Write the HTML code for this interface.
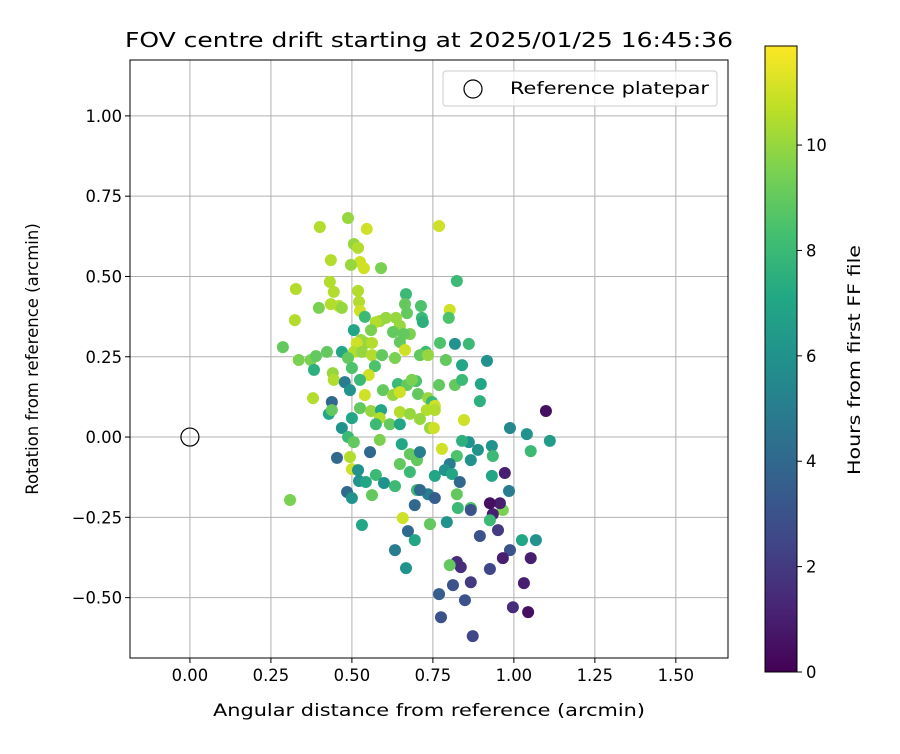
<!DOCTYPE html>
<html><head><meta charset="utf-8"><style>
body{margin:0;background:#fff;font-family:"DejaVu Sans","Liberation Sans",sans-serif;}
svg text{font-family:"DejaVu Sans","Liberation Sans",sans-serif;fill:#000;}
</style></head><body>
<svg id="chart" width="900" height="750" xmlns="http://www.w3.org/2000/svg">
<defs><linearGradient id="vir" x1="0" y1="1" x2="0" y2="0">
<stop offset="0" stop-color="#440154"/><stop offset="0.1" stop-color="#482475"/><stop offset="0.2" stop-color="#414487"/><stop offset="0.3" stop-color="#355f8d"/><stop offset="0.4" stop-color="#2a788e"/><stop offset="0.5" stop-color="#21918c"/><stop offset="0.6" stop-color="#22a884"/><stop offset="0.7" stop-color="#44bf70"/><stop offset="0.8" stop-color="#7ad151"/><stop offset="0.9" stop-color="#bddf26"/><stop offset="1" stop-color="#fde725"/>
</linearGradient><clipPath id="clip"><rect x="130" y="60" width="598" height="598"/></clipPath></defs>
<text x="125" y="47" font-size="20" textLength="608" lengthAdjust="spacingAndGlyphs">FOV centre drift starting at 2025/01/25 16:45:36</text>
<g id="grid"></g>
<g id="points" clip-path="url(#clip)"></g>
<rect x="130" y="60" width="598" height="598" fill="none" stroke="#000" stroke-width="1"/>
<g id="ticks"></g>
<text x="213" y="716" font-size="16.5" textLength="432" lengthAdjust="spacingAndGlyphs">Angular distance from reference (arcmin)</text>
<text transform="translate(38,359) rotate(-90)" font-size="16.5" text-anchor="middle">Rotation from reference (arcmin)</text>
<g>
<rect x="443" y="71" width="274" height="35" rx="3" fill="#fff" fill-opacity="0.8" stroke="#ccc"/>
<circle cx="473" cy="89" r="9" fill="none" stroke="#000" stroke-width="1.2"/>
<text x="510" y="94" font-size="16.5" textLength="199" lengthAdjust="spacingAndGlyphs">Reference platepar</text>
</g>
<rect x="765" y="46" width="32" height="626" fill="url(#vir)" stroke="#000" stroke-width="1"/>
<g id="cbticks"></g>
<text transform="translate(860,475) rotate(-90)" font-size="16.5" textLength="230" lengthAdjust="spacingAndGlyphs">Hours from first FF file</text>
</svg>
<script>
const xTicks=[0,0.25,0.5,0.75,1,1.25,1.5];
const yTicks=[-0.5,-0.25,0,0.25,0.5,0.75,1.0];
const cTicks=[0,2,4,6,8,10];
const refPoint=[0,0];
const xs=[0.488,0.401,0.546,0.769,0.506,0.519,0.435,0.525,0.497,0.590,0.537,0.432,0.327,0.444,0.824,0.519,0.667,0.522,0.435,0.460,0.398,0.469,0.525,0.802,0.664,0.713,0.799,0.324,0.540,0.605,0.586,0.574,0.636,0.670,0.716,0.719,0.648,0.679,0.660,0.506,0.559,0.627,0.818,0.861,0.287,0.528,0.543,0.562,0.515,0.648,0.728,0.772,0.469,0.506,0.336,0.373,0.389,0.423,0.488,0.531,0.562,0.593,0.633,0.664,0.710,0.735,0.790,0.917,0.840,0.383,0.500,0.571,0.441,0.444,0.552,0.478,0.525,0.642,0.670,0.698,0.769,0.818,0.840,0.898,0.685,0.494,0.540,0.596,0.627,0.648,0.704,0.735,0.380,0.438,0.895,0.747,0.756,0.756,0.429,0.438,0.525,0.559,0.590,0.648,0.679,0.731,1.099,0.500,0.586,0.710,0.846,0.574,0.617,0.648,0.741,0.753,0.469,0.988,1.040,1.111,1.052,0.932,0.861,0.840,0.778,0.824,0.889,0.935,0.867,0.454,0.494,0.648,0.679,0.701,0.802,0.488,0.506,0.556,0.586,0.654,0.710,0.972,0.932,0.985,0.500,0.519,0.574,0.679,0.756,0.787,0.809,0.833,0.522,0.543,0.599,0.633,0.701,0.735,0.710,0.756,0.824,0.485,0.500,0.562,0.309,0.694,0.827,0.867,0.966,0.935,0.957,0.926,0.793,0.741,0.657,0.531,0.926,0.867,0.951,0.673,0.895,0.694,1.025,1.068,0.633,0.988,0.824,0.966,1.052,0.836,0.926,0.802,0.667,0.812,0.867,1.031,0.769,0.849,0.997,1.044,0.775,0.873];
const ys=[0.682,0.654,0.648,0.657,0.601,0.589,0.551,0.545,0.536,0.526,0.526,0.483,0.461,0.452,0.486,0.455,0.445,0.421,0.414,0.408,0.402,0.402,0.393,0.396,0.414,0.408,0.371,0.364,0.374,0.371,0.361,0.358,0.371,0.386,0.371,0.358,0.346,0.321,0.321,0.333,0.333,0.327,0.290,0.290,0.280,0.302,0.293,0.293,0.293,0.296,0.265,0.293,0.265,0.265,0.240,0.240,0.252,0.265,0.246,0.265,0.255,0.255,0.246,0.271,0.255,0.255,0.240,0.237,0.224,0.209,0.215,0.221,0.199,0.178,0.193,0.171,0.178,0.165,0.162,0.174,0.162,0.162,0.178,0.165,0.178,0.146,0.131,0.146,0.131,0.140,0.134,0.121,0.121,0.109,0.112,0.109,0.097,0.084,0.072,0.084,0.090,0.081,0.084,0.078,0.072,0.084,0.081,0.059,0.059,0.056,0.053,0.040,0.040,0.040,0.028,0.028,0.028,0.028,0.009,-0.012,-0.044,-0.028,-0.016,-0.012,-0.037,-0.059,-0.040,-0.059,-0.072,-0.065,-0.062,-0.084,-0.053,-0.072,-0.084,0.000,-0.016,-0.047,-0.009,-0.022,-0.047,-0.112,-0.121,-0.168,-0.100,-0.103,-0.118,-0.109,-0.121,-0.103,-0.115,-0.140,-0.137,-0.140,-0.143,-0.153,-0.165,-0.178,-0.165,-0.190,-0.178,-0.171,-0.190,-0.181,-0.196,-0.212,-0.221,-0.221,-0.227,-0.240,-0.206,-0.206,-0.265,-0.271,-0.252,-0.274,-0.259,-0.227,-0.290,-0.293,-0.308,-0.321,-0.321,-0.321,-0.352,-0.352,-0.389,-0.377,-0.377,-0.405,-0.411,-0.399,-0.408,-0.461,-0.452,-0.455,-0.489,-0.508,-0.530,-0.545,-0.561,-0.620];
const hours=[10,10.5,11,11,10,10.5,10.5,11,10,9.5,11,10.5,10.5,10.5,8,10.5,8,10.5,10.5,10.5,9.5,10,11,11,9,8.5,8.5,10.5,8,10,10,10.5,10,9,8,7.5,10,9.5,9,7,9.5,9,6,8,9,10,10,10.5,11,9,8,8.5,7,10.5,9.5,9.5,9,9,9,10,10.5,9,9.5,11,9,10,9,6,7,7.5,8.5,8.5,10,10.5,11,5,8,8,9,8.5,9,9,8,7,9.5,6,11,9,10,11,9,10,10.5,4,7.5,8,11,10.5,7,9,9,10,7,10.5,10,10.5,0.5,7,10.5,10,11,8,9,7,10,11,6,5.5,6,6.5,8,6,6,7.5,11,8.5,6,8,6,4,10.5,9,9,9,5,8,9,4,9.5,7,5,1,7,5,11,6,8,8,7,6,7,4,6,7,6,8,8,5,4,3.5,9,4,6,9,9.5,4,8,8.5,9.5,1,1,0.5,6,9,11,7,8,3,2,4,3,7,7,6,5,3,1.5,1,1,1.5,2.5,9,6,3,2,1,3.5,3,1.5,0.5,3,2.5];
const NS="http://www.w3.org/2000/svg";
const L=130,R=728,T=60,B=658,X0=-0.185,X1=1.661,Y0=-0.688,Y1=1.174,CMAX=11.88,CT=46,CB=672;
function sx(v){return L+(v-X0)/(X1-X0)*(R-L);}
function sy(v){return B-(v-Y0)/(Y1-Y0)*(B-T);}
function cy(v){return CB-v/CMAX*(CB-CT);}
const vstops=[[68,1,84],[72,36,117],[65,68,135],[53,95,141],[42,120,142],[33,145,140],[34,168,132],[68,191,112],[122,209,81],[189,223,38],[253,231,37]];
function viridis(h){let t=Math.max(0,Math.min(1,h/CMAX))*10;let i=Math.min(9,Math.floor(t)),f=t-i;const a=vstops[i],b=vstops[i+1];return `rgb(${a.map((c,k)=>Math.round(c+(b[k]-c)*f)).join(',')})`;}
function mk(tag,attrs,parent){const e=document.createElementNS(NS,tag);for(const k in attrs)e.setAttribute(k,attrs[k]);parent.appendChild(e);return e;}
const grid=document.getElementById('grid'),ticks=document.getElementById('ticks'),pts=document.getElementById('points'),cb=document.getElementById('cbticks');
const FS=16.4;
xTicks.forEach(v=>{const x=sx(v);
const g=mk('line',{x1:x,x2:x,y1:T,y2:B,stroke:'#b0b0b0','stroke-width':1},grid);


const t=mk('line',{x1:x,x2:x,y1:B,y2:B+5,stroke:'#000'},ticks);


const l=mk('text',{x:x,y:B+23,'font-size':FS,'text-anchor':'middle'},ticks);l.textContent=v.toFixed(2);

});
yTicks.forEach(v=>{const y=sy(v);
const g=mk('line',{x1:L,x2:R,y1:y,y2:y,stroke:'#b0b0b0','stroke-width':1},grid);


const t=mk('line',{x1:L-5,x2:L,y1:y,y2:y,stroke:'#000'},ticks);


const l=mk('text',{x:L-8,y:y+6,'font-size':FS,'text-anchor':'end'},ticks);l.textContent=(v<0?'\u2212':'')+Math.abs(v).toFixed(2);

});
cTicks.forEach(v=>{const y=cy(v);
const t=mk('line',{x1:797,x2:802,y1:y,y2:y,stroke:'#000'},cb);


const l=mk('text',{x:806,y:y+6,'font-size':FS},cb);l.textContent=v;

});
xs.forEach((x,i)=>{const c=mk('circle',{cx:sx(x),cy:sy(ys[i]),r:6,fill:viridis(hours[i])},pts);

});
const ref=mk('circle',{cx:sx(refPoint[0]),cy:sy(refPoint[1]),r:9,fill:'none',stroke:'#000','stroke-width':1.2},pts);


</script>
</body></html>
